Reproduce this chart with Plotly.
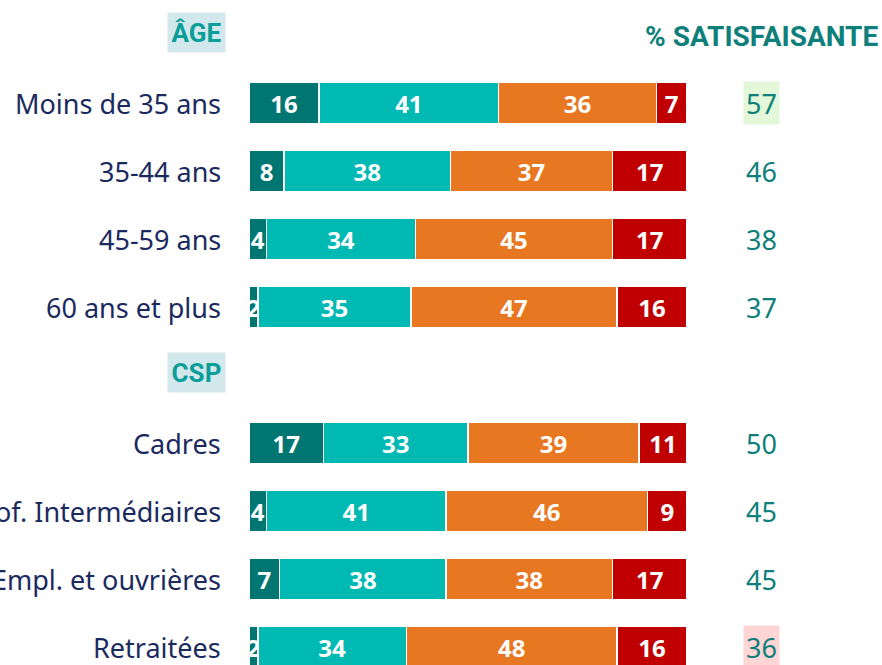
import plotly.graph_objects as go

# ---- data ----
groups = ["ÂGE", "CSP"]
age_labels = ["Moins de 35 ans", "35-44 ans", "45-59 ans", "60 ans et plus"]
csp_labels = ["Cadres", "Prof. Intermédiaires", "Empl. et ouvrières", "Retraitées"]
series_names = ["Très satisfaisante", "Plutôt satisfaisante", "Peu satisfaisante", "Pas du tout satisfaisante"]
tres_sat = [16, 8, 4, 2, 17, 4, 7, 2]
plutot_sat = [41, 38, 34, 35, 33, 41, 38, 34]
peu_sat = [36, 37, 45, 47, 39, 46, 38, 48]
pas_sat = [7, 17, 17, 16, 11, 9, 17, 16]
pct_satisfaisante = [57, 46, 38, 37, 50, 45, 45, 36]

colors = ["#007672", "#00B9B3", "#E87722", "#C00000"]
navy = "#1B2A5E"
teal_txt = "#0E7F7A"
head_teal = "#0A9E98"

W, H = 882, 665
# pixel geometry
bar_left_px, bar_right_px = 249, 687
px_per_unit = (bar_right_px - bar_left_px) / 100.0
x0 = -bar_left_px / px_per_unit
x1 = (W - bar_left_px) / px_per_unit
row_step = 68.0
first_center = 103.0
y_top = -first_center / row_step
y_bot = (H - first_center) / row_step

labels = age_labels + csp_labels
# row positions: age rows 0..3, CSP header row 4, csp rows 5..8
rows = list(range(len(age_labels))) + [len(age_labels) + 1 + i for i in range(len(csp_labels))]
header_rows = [-1, len(age_labels)]

fig = go.Figure()
for name, vals, col in zip(series_names, [tres_sat, plutot_sat, peu_sat, pas_sat], colors):
    fig.add_trace(go.Bar(
        x=vals, y=rows, orientation="h", name=name,
        marker=dict(color=col, line=dict(color="white", width=1.5)),
        width=0.62,
        text=[str(v) for v in vals], textposition="inside", insidetextanchor="middle",
        textangle=0, constraintext="none",
        textfont=dict(family="Open Sans", size=24, color="white", weight="bold"),
        hoverinfo="skip",
    ))

annotations = []
label_x = 223 / W
for lab, r in zip(labels, rows):
    annotations.append(dict(x=label_x, xref="paper", y=r, yref="y", text=lab, showarrow=False,
                            xanchor="right", yanchor="middle",
                            font=dict(family="Noto Sans", size=27, color=navy)))

sat_x = 761 / W
for v, r in zip(pct_satisfaisante, rows):
    bg = None
    if v == max(pct_satisfaisante):
        bg = "#E2F8D8"
    elif v == min(pct_satisfaisante):
        bg = "#FFD5D5"
    a = dict(x=sat_x, xref="paper", y=r, yref="y", text=str(v), showarrow=False,
             xanchor="center", yanchor="middle",
             font=dict(family="Noto Sans", size=27, color=teal_txt))
    if bg:
        a.update(bgcolor=bg, width=33, height=40)
    annotations.append(a)

for g, r in zip(groups, header_rows):
    annotations.append(dict(x=196.5 / W, xref="paper", y=r - 0.04, yref="y", text="<b>%s</b>" % g,
                            showarrow=False, xanchor="center", yanchor="middle",
                            bgcolor="#D3E8EC", width=55, height=37,
                            font=dict(family="Roboto", size=26, color=head_teal)))

annotations.append(dict(x=761 / W, xref="paper", y=-1 + 0.02, yref="y", text="<b>% SATISFAISANTE</b>",
                        showarrow=False, xanchor="center", yanchor="middle",
                        font=dict(family="Roboto", size=28, color=teal_txt)))

fig.update_layout(
    width=W, height=H, barmode="stack", showlegend=False,
    margin=dict(l=0, r=0, t=0, b=0),
    paper_bgcolor="white", plot_bgcolor="white",
    xaxis=dict(range=[x0, x1], visible=False, fixedrange=True),
    yaxis=dict(range=[y_bot, y_top], visible=False, fixedrange=True),
    annotations=annotations,
    bargap=0,
)
fig.write_html("out.html", config={"displayModeBar": False, "staticPlot": True},
               post_script="document.body.style.margin='0';document.body.style.overflow='hidden';")
